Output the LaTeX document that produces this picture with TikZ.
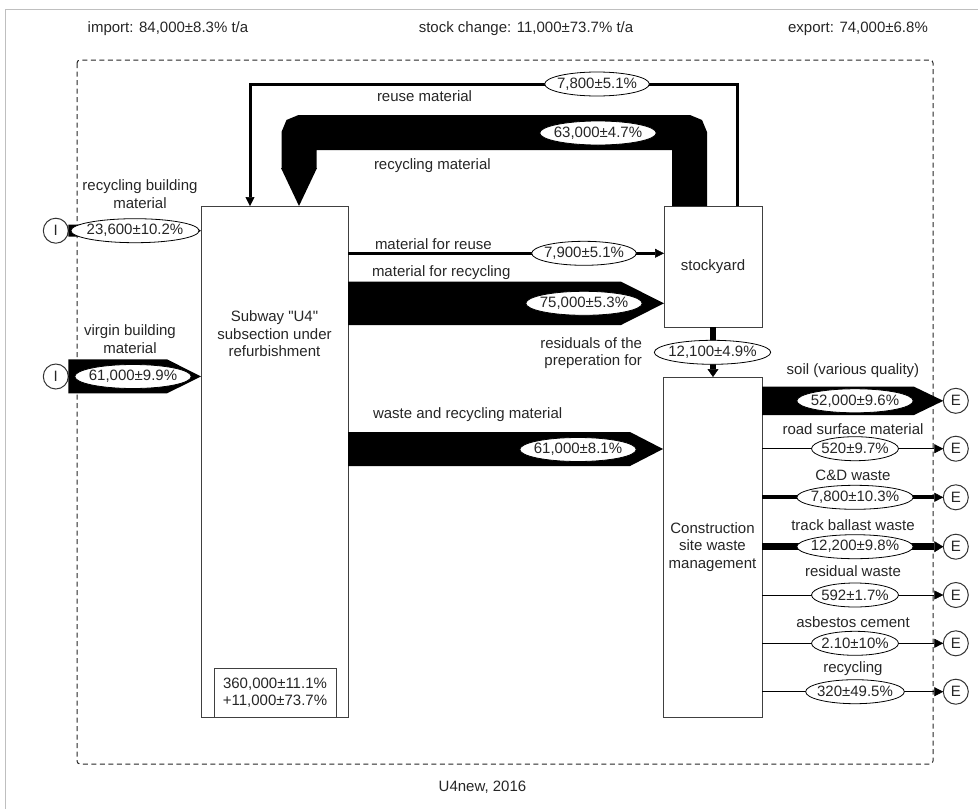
\documentclass[tikz,border=0pt]{standalone}
\usepackage{fontspec}
\setmainfont{Liberation Sans}[Ligatures=TeXOff]
\usetikzlibrary{positioning,calc,shapes.geometric,arrows.meta}

\begin{document}
\begin{tikzpicture}[x=1pt,y=-1pt,font=\fontsize{15}{17.5}\selectfont]
    \tikzstyle{every node}=[inner sep=0,outer sep=0,text=black!85]
    \tikzstyle{process}=[draw=black!75,fill=white,rectangle,line width=1,align=center]
    \tikzstyle{flowval}=[draw=black,fill=white,ellipse,line width=0.8,inner xsep=-3pt,inner ysep=0pt,minimum height=24]
    \tikzstyle{ioport}=[draw=black!80,fill=white,circle,line width=1,minimum size=25]
    \tikzstyle{note}=[align=center]
    \tikzstyle{tip}=[-{Triangle[length=9pt,width=9pt,line width=0.5pt]}]

    \useasboundingbox (0,0) rectangle (978,809);
    \draw[black!25] (5,809) -- (5,9) -- (978,9);

    % system boundary and balance
    \draw[black!85,line width=1,dash pattern=on 5pt off 3.5pt,rounded corners=3] (77,60) rectangle (933,764);
    \node (import) at (168,29) {import: 84,000±8.3\% t/a};
    \node (stockchg) at (526,29) {stock change: 11,000±73.7\% t/a};
    \node (export) at (858,29) {export: 74,000±6.8\%};
    \node (caption) at (482.5,787.5) {U4new, 2016};

    % processes
    \node[process,minimum width=147,minimum height=511] (subway) at (274.5,461.5) {};
    \node[note] (subwaylbl) at (274.5,334) {Subway "U4"\\subsection under\\refurbishment};
    \node[process,minimum width=122,minimum height=49] (stock) at (275,692.5) {360,000±11.1\%\\+11,000±73.7\%};
    \node[process,minimum width=98,minimum height=121] (yard) at (713,266.5) {stockyard};
    \node[process,minimum width=99,minimum height=340] (csw) at (712.5,547) {Construction\\site waste\\management};

    \node[ioport] (in1) at (55.8,230.7) {I};
    \node[ioport] (in2) at (55.8,376.5) {I};
    \node[ioport] (out1) at (955.8,400.8) {E};
    \node[ioport] (out2) at (955.8,448.7) {E};
    \node[ioport] (out3) at (955.8,497.3) {E};
    \node[ioport] (out4) at (955.8,546.7) {E};
    \node[ioport] (out5) at (955.8,595) {E};
    \node[ioport] (out6) at (955.8,643.3) {E};
    \node[ioport] (out7) at (955.8,691.7) {E};

    % imports
    \fill (in1.east |- 0,224.7) -- (191,224.7) -- (subway.west |- in1) -- (191,236.7) -- (in1.east |- 0,236.7) -- cycle;
    \fill (in2.east |- 0,359.3) -- (167,359.3) -- (subway.west |- in2) -- (167,393.3) -- (in2.east |- 0,393.3) -- cycle;
    \node[note] (rbmlbl) at (140,194) {recycling building\\material};
    \node[note] (vbmlbl) at (130,339) {virgin building\\material};

    % back flows from the stockyard
    \draw[line width=3,tip] (yard.north -| 737,0) -- (737,84) -- (250,84) -- (subway.north -| 250,0);
    \draw[line width=35,rounded corners=3] (yard.north -| 689.5,0) -- (689.5,132.5) -- (299,132.5) -- (299,168.5);
    \fill (281,168) -- (317,168) -- (subway.north -| 299,0) -- cycle;
    \node[anchor=west] (reuselbl) at (377,96) {reuse material};
    \node[anchor=west] (recyclbl) at (374,166) {recycling material};

    % subway to stockyard and site waste management
    \draw[line width=3,tip] (subway.east |- 0,253.3) -- (yard.west |- 0,253.3);
    \fill (subway.east |- 0,281.7) -- (621,281.7) -- (yard.west |- 0,303.3) -- (621,325) -- (subway.east |- 0,325) -- cycle;
    \fill (subway.east |- 0,432) -- (630,432) -- (csw.west |- 0,449) -- (630,466) -- (subway.east |- 0,466) -- cycle;
    \draw[line width=6.5,-{Triangle[length=8pt,width=11pt,line width=0.5pt]}] (yard.south) -- (yard.south |- csw.north);
    \node[anchor=west] (mreuselbl) at (375,244) {material for reuse};
    \node[anchor=west] (mrecyclbl) at (372,273) {material for recycling};
    \node[anchor=west] (wastelbl) at (373,415) {waste and recycling material};
    \node[anchor=east,align=right] (residlbl) at (642,353) {residuals of the\\preperation for};

    % exports
    \fill (csw.east |- 0,386.7) -- (914,386.7) -- (out1.west) -- (914,415) -- (csw.east |- 0,415) -- cycle;
    \draw[line width=1,tip] (csw.east |- out2) -- (out2.west);
    \draw[line width=4,tip] (csw.east |- out3) -- (out3.west);
    \draw[line width=6.5,-{Triangle[length=9pt,width=11pt,line width=0.5pt]}] (csw.east |- out4) -- (out4.west);
    \draw[line width=1,tip] (csw.east |- out5) -- (out5.west);
    \draw[line width=1,tip] (csw.east |- out6) -- (out6.west);
    \draw[line width=1,tip] (csw.east |- out7) -- (out7.west);
    \node (soillbl) at (853,371) {soil (various quality)};
    \node (roadlbl) at (853,429) {road surface material};
    \node (cdlbl) at (853,475.5) {C\&D waste};
    \node (ballastlbl) at (853,525) {track ballast waste};
    \node (residuallbl) at (853,571) {residual waste};
    \node (asbestoslbl) at (853,622) {asbestos cement};
    \node (recyclbl2) at (853,668.5) {recycling};

    % flow values
    \node[flowval] (v1) at (135,230.7) {23,600±10.2\%};
    \node[flowval] (v2) at (133,376.5) {61,000±9.9\%};
    \node[flowval] (v3) at (597,84) {7,800±5.1\%};
    \node[flowval] (v4) at (598,133) {63,000±4.7\%};
    \node[flowval] (v5) at (584,253.3) {7,900±5.1\%};
    \node[flowval] (v6) at (584,303.3) {75,000±5.3\%};
    \node[flowval] (v7) at (578,449.5) {61,000±8.1\%};
    \node[flowval] (v8) at (712.5,352.3) {12,100±4.9\%};
    \node[flowval] (v9) at (855,400.8) {52,000±9.6\%};
    \node[flowval] (v10) at (855,448.7) {520±9.7\%};
    \node[flowval] (v11) at (855,497.3) {7,800±10.3\%};
    \node[flowval] (v12) at (855,546.7) {12,200±9.8\%};
    \node[flowval] (v13) at (855,595) {592±1.7\%};
    \node[flowval] (v14) at (855,643.3) {2.10±10\%};
    \node[flowval] (v15) at (855,691.7) {320±49.5\%};
\end{tikzpicture}
\end{document}
